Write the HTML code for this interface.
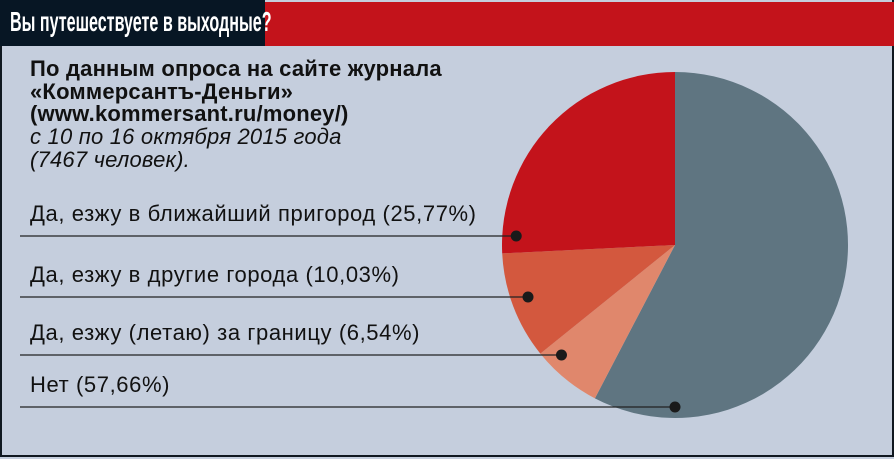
<!DOCTYPE html>
<html><head><meta charset="utf-8"><style>
body{margin:0;width:894px;height:459px;overflow:hidden;background:#c5cedd;font-family:"Liberation Sans",sans-serif}
#wrap{position:absolute;left:0;top:0;width:890px;height:455px;border:2px solid #101820;border-top:none}
.t{position:absolute;left:30px;color:#111;font-size:22px;line-height:22.5px;letter-spacing:0.2px}
.lab{position:absolute;left:30px;font-size:22px;color:#111;letter-spacing:0.6px;white-space:nowrap}
</style></head><body>
<div id="wrap"></div>
<div style="position:absolute;left:0;top:0;width:265px;height:46px;background:#071624"></div>
<div style="position:absolute;left:265px;top:2px;width:629px;height:44px;background:#c3131b"></div>
<div style="position:absolute;left:10px;top:6px;color:#fff;font-weight:bold;font-size:28px;white-space:nowrap;transform:scaleX(0.575);transform-origin:left">Вы путешествуете в выходные?</div>
<div class="t" style="top:58px;font-weight:bold">По данным опроса на сайте журнала<br>«Коммерсантъ-Деньги»<br>(www.kommersant.ru/money/)</div>
<div class="t" style="top:126px;font-style:italic">с 10 по 16 октября 2015 года<br>(7467 человек).</div>
<svg id="pie" width="894" height="459" style="position:absolute;left:0;top:0"></svg>
<script>
const categories=["Нет","Да, езжу (летаю) за границу","Да, езжу в другие города","Да, езжу в ближайший пригород"];
const values=[57.66,6.54,10.03,25.77];
const colors=["#5f7581","#e0876c","#d3583e","#c3131b"];
const labelY=[394,342,284,223];
const ns="http://www.w3.org/2000/svg";
const svg=document.getElementById('pie');
const cx=675,cy=245,r=173;
const total=values.reduce((a,b)=>a+b,0);
function pt(frac,rad){const a=frac*2*Math.PI;return [cx+rad*Math.sin(a),cy-rad*Math.cos(a)];}
let acc=0;
values.forEach((v,i)=>{
  const s=acc/total,e=(acc+v)/total;acc+=v;
  const p0=pt(s,r),p1=pt(e,r);
  const path=document.createElementNS(ns,'path');
  path.setAttribute('d',`M${cx},${cy}L${p0[0]},${p0[1]}A${r},${r} 0 ${e-s>0.5?1:0} 1 ${p1[0]},${p1[1]}Z`);
  path.setAttribute('fill',colors[i]);
  
  
  svg.appendChild(path);
  const dy=labelY[i]+13;
  const yy=dy-cy;
  const ang=Math.asin(Math.max(-1,Math.min(1,yy/r)));
  const dx=i===0?cx:cx-r*Math.cos(ang)+(i===3?14:i===2?18:20);
  const line=document.createElementNS(ns,'line');
  line.setAttribute('x1',20);line.setAttribute('y1',dy);line.setAttribute('x2',dx);line.setAttribute('y2',dy);
  line.setAttribute('stroke','#222');line.setAttribute('stroke-width','1.2');
  
  
  svg.appendChild(line);
  const c=document.createElementNS(ns,'circle');
  c.setAttribute('cx',dx);c.setAttribute('cy',dy);c.setAttribute('r',5.5);c.setAttribute('fill','#1a1a1a');
  
  
  svg.appendChild(c);
  const t=document.createElement('div');
  t.className='lab';t.style.top=(dy-35)+'px';
  t.textContent=categories[i]+' ('+v.toFixed(2).replace('.',',')+'%)';
  
  
  document.body.appendChild(t);
});
</script>
</body></html>
